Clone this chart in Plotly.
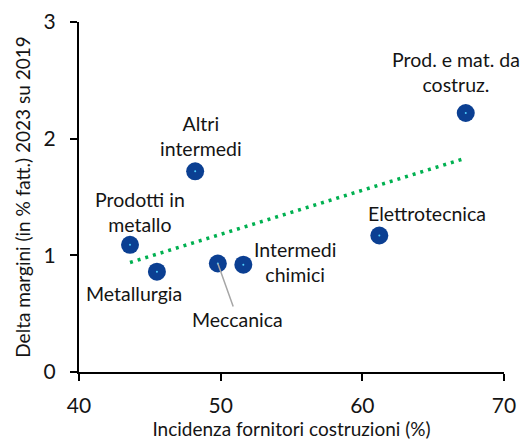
import numpy as np
import plotly.graph_objects as go

# Data
sectors = ["Prodotti in<br>metallo", "Metallurgia", "Altri<br>intermedi", "Meccanica",
           "Intermedi<br>chimici", "Elettrotecnica", "Prod. e mat. da<br>costruz."]
incidenza = [43.6, 45.5, 48.2, 49.8, 51.6, 61.2, 67.3]
delta_margini = [1.09, 0.86, 1.72, 0.93, 0.92, 1.17, 2.22]
x_ticks = [40, 50, 60, 70]
y_ticks = [0, 1, 2, 3]

# label offsets in px (styling)
label_shift = {
    "Prodotti in<br>metallo": (10, 33),
    "Metallurgia": (-23, -22),
    "Altri<br>intermedi": (6, 35),
    "Intermedi<br>chimici": (52, 3),
    "Elettrotecnica": (48, 22),
    "Prod. e mat. da<br>costruz.": (-10, 41),
}

FONT = "Lato"
LBL = 19.5
blue = "#0b3f92"
green = "#00b050"
txt = "#141414"

fig = go.Figure()

# linear trendline from data (OLS)
slope, intercept = np.polyfit(incidenza, delta_margini, 1)
xt = np.array([min(incidenza), max(incidenza)])
fig.add_trace(go.Scatter(x=xt, y=slope * xt + intercept, mode="lines",
                         line=dict(color=green, width=3.5, dash="3px,5px"),
                         hoverinfo="skip", showlegend=False))

fig.add_trace(go.Scatter(x=incidenza, y=delta_margini, mode="markers",
                         marker=dict(size=18, color=blue, line=dict(width=0)),
                         showlegend=False))
fig.add_trace(go.Scatter(x=incidenza, y=delta_margini, mode="markers",
                         marker=dict(size=2, color="#4fd0ff", line=dict(width=0)),
                         hoverinfo="skip", showlegend=False))

annotations = []
for name, xv, yv in zip(sectors, incidenza, delta_margini):
    if name == "Meccanica":
        annotations.append(dict(x=xv, y=yv, text=name, showarrow=True, arrowhead=0,
                                arrowcolor="#a6a6a6", arrowwidth=1.5, ax=20, ay=56,
                                standoff=0, font=dict(family=FONT, size=LBL, color=txt)))
    else:
        dx, dy = label_shift[name]
        annotations.append(dict(x=xv, y=yv, text=name, showarrow=False,
                                xshift=dx, yshift=dy, align="center",
                                font=dict(family=FONT, size=LBL, color=txt)))

# page body has an 8px default margin: figure is sized/placed to compensate
fig.update_layout(
    width=524, height=434,
    margin=dict(l=71, r=28, t=14, b=70),
    paper_bgcolor="white", plot_bgcolor="white",
    font=dict(family=FONT, color=txt),
    annotations=annotations,
    xaxis=dict(range=[40, 70], tickvals=x_ticks, showgrid=False, zeroline=False,
               automargin=False,
               showline=True, linecolor="black", linewidth=2,
               ticks="outside", ticklen=7, tickwidth=2, tickcolor="black",
               ticklabelstandoff=7,
               tickfont=dict(size=21, family=FONT, color=txt),
               title=dict(text="Incidenza fornitori costruzioni (%)",
                          font=dict(size=19, family=FONT, color=txt), standoff=5)),
    yaxis=dict(range=[0, 3], tickvals=y_ticks, showgrid=False, zeroline=False,
               automargin=False,
               showline=True, linecolor="black", linewidth=2,
               ticks="outside", ticklen=7, tickwidth=2, tickcolor="black",
               ticklabelstandoff=10,
               tickfont=dict(size=21, family=FONT, color=txt),
               title=dict(text="Delta margini (in % fatt.) 2023 su 2019",
                          font=dict(size=19, family=FONT, color=txt), standoff=8)),
)

fig.write_html("out.html")
